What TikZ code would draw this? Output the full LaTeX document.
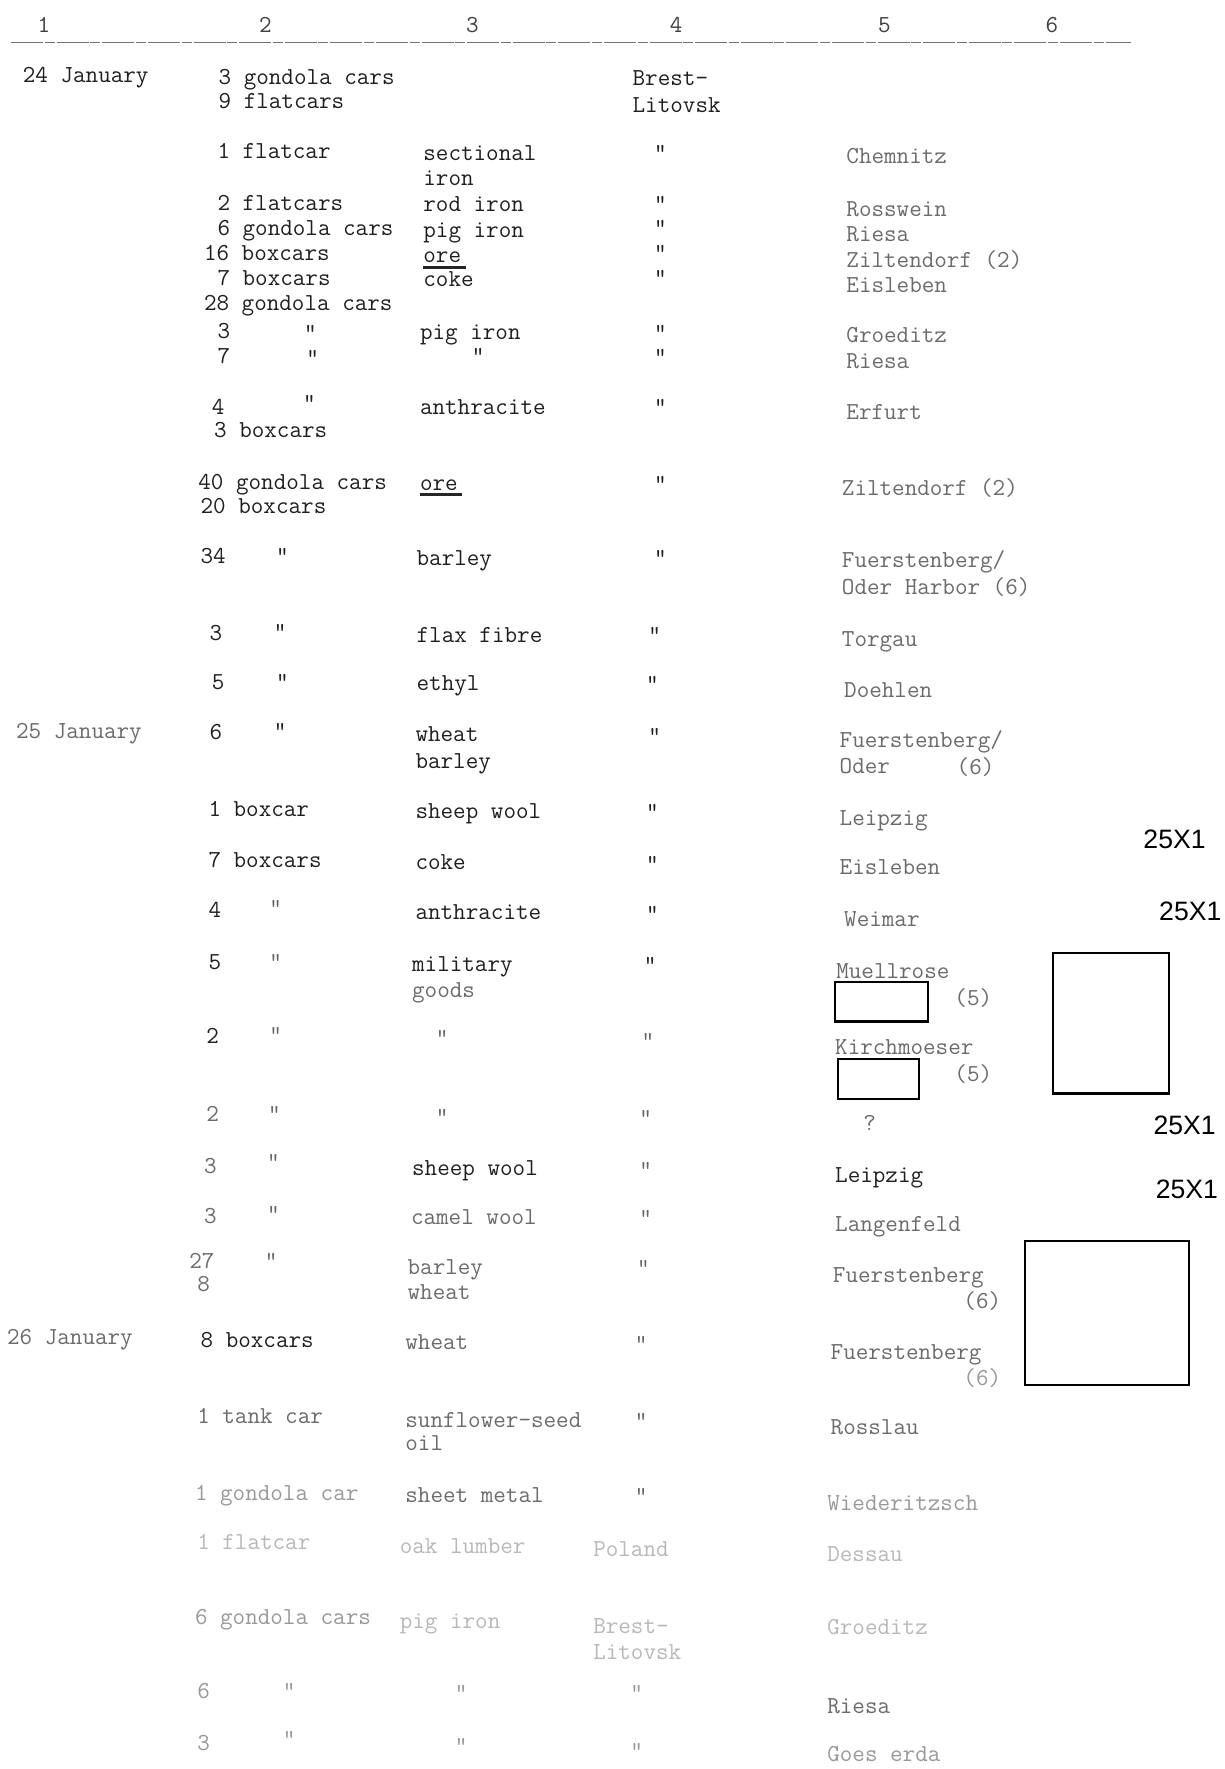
\documentclass[tikz,border=0pt]{standalone}
\usepackage{fontspec}
\newfontfamily\arialfont{Liberation Sans}
\begin{document}
\begin{tikzpicture}[x=0.5625pt,y=-0.5625pt,
  t/.style={font=\ttfamily\fontsize{12.2}{14}\selectfont, anchor=base west, inner sep=0pt, text=black!88},
  tl/.style={t, text=black!58},
  tf/.style={t, text=black!40},
  tv/.style={t, text=black!28},
  dit/.style={t, anchor=base},
  ditl/.style={dit, text=black!60},
  ditf/.style={dit, text=black!40},
  hd/.style={t, anchor=base, text=black!75},
  tag/.style={font=\arialfont\fontsize{13.3}{15}\selectfont, inner sep=0pt, anchor=center, text=black},
  blank/.style={draw=black, line width=1.1pt},
  uline/.style={line width=1.6pt, black!85}]
\useasboundingbox (0,0) rectangle (1088,1572.4);
\fill[white] (0,0) rectangle (1088,1572.4);
\begin{scope}[yshift=-1.5pt]
% header
\node[hd] (h1) at (39,26) {1};
\node[hd] (h2) at (236,26) {2};
\node[hd] (h3) at (420,26) {3};
\node[hd] (h4) at (601,26) {4};
\node[hd] (h5) at (786,26) {5};
\node[hd] (h6) at (935,26) {6};
\end{scope}
\coordinate (hl1) at (10,38);
\coordinate (hl2) at (1005,38);
\draw[black!55, line width=0.6pt, dash pattern=on 16pt off 0.8pt on 5pt off 1pt] (hl1) -- (hl2);
\begin{scope}[yshift=-1.5pt]
% 24 January
\node[t] (d24) at (20,71) {24 January};
\node[t] (a1) at (194,72) {3 gondola cars};
\node[t] (a2) at (194,94) {9 flatcars};
\node[t] (a3) at (562,73) {Brest-};
\node[t] (a4) at (562,97) {Litovsk};
\node[t] (b1) at (193,138) {1 flatcar};
\node[t] (b2) at (376,140) {sectional};
\node[dit] (b3) at (587,140) {"};
\node[tl] (b4) at (752,143) {Chemnitz};
\node[t] (b5) at (376,162) {iron};
\node[t] (c1) at (193,184) {2 flatcars};
\node[t] (c2) at (376,185) {rod iron};
\node[dit] (c3) at (587,185) {"};
\node[tl] (c4) at (752,190) {Rosswein};
\node[t] (e1) at (193,207) {6 gondola cars};
\node[t] (e2) at (376,208) {pig iron};
\node[dit] (e3) at (587,207) {"};
\node[tl] (e4) at (752,212) {Riesa};
\node[t] (f1) at (181,229) {16 boxcars};
\node[t] (f2) at (376,231) {ore};
\draw[uline] ([yshift=-2pt]f2.south west) -- ([xshift=2pt,yshift=-2pt]f2.south east);
\node[dit] (f3) at (587,229) {"};
\node[tl] (f4) at (752,235) {Ziltendorf (2)};
\node[t] (g1) at (193,251) {7 boxcars};
\node[t] (g2) at (376,252) {coke};
\node[dit] (g3) at (587,251) {"};
\node[tl] (g4) at (752,257) {Eisleben};
\node[t] (i1) at (181,273) {28 gondola cars};
\node[t] (j1) at (193,298) {3};
\node[dit] (j2) at (276,300) {"};
\node[t] (j3) at (373,299) {pig iron};
\node[dit] (j4) at (587,300) {"};
\node[tl] (j5) at (752,302) {Groeditz};
\node[t] (k1) at (193,320) {7};
\node[dit] (k2) at (278,322) {"};
\node[dit] (k3) at (425,320) {"};
\node[dit] (k4) at (587,321) {"};
\node[tl] (k5) at (752,325) {Riesa};
\node[t] (l1) at (188,366) {4};
\node[dit] (l2) at (275,362) {"};
\node[t] (l3) at (373,366) {anthracite};
\node[dit] (l4) at (587,366) {"};
\node[tl] (l5) at (752,370) {Erfurt};
\node[t] (m1) at (190,386) {3 boxcars};
\node[t] (n1) at (176,432) {40 gondola cars};
\node[t] (n2) at (373,433) {ore};
\draw[uline] ([yshift=-2pt]n2.south west) -- ([xshift=2pt,yshift=-2pt]n2.south east);
\node[dit] (n3) at (587,434) {"};
\node[tl] (n4) at (748,438) {Ziltendorf (2)};
\node[t] (o1) at (178,454) {20 boxcars};
\node[t] (p1) at (178,498) {34};
\node[dit] (p2) at (251,498) {"};
\node[t] (p3) at (370,500) {barley};
\node[dit] (p4) at (587,500) {"};
\node[tl] (p5) at (748,502) {Fuerstenberg/};
\node[tl] (p6) at (748,526) {Oder Harbor (6)};
\node[t] (q1) at (186,567) {3};
\node[dit] (q2) at (249,566) {"};
\node[t] (q3) at (370,568) {flax fibre};
\node[dit] (q4) at (582,568) {"};
\node[tl] (q5) at (748,572) {Torgau};
\node[t] (r1) at (188,610) {5};
\node[dit] (r2) at (251,610) {"};
\node[t] (r3) at (370,611) {ethyl};
\node[dit] (r4) at (580,612) {"};
\node[tl] (r5) at (750,617) {Doehlen};
% 25 January
\node[tl] (d25) at (14,654) {25 January};
\node[t] (s1) at (186,655) {6};
\node[dit] (s2) at (249,654) {"};
\node[t] (s3) at (369,656) {wheat};
\node[dit] (s4) at (582,658) {"};
\node[tl] (s5) at (746,662) {Fuerstenberg/};
\node[t] (s6) at (369,680) {barley};
\node[tl] (s7) at (746,685) {Oder};
\node[tl] (s8) at (850,686) {(6)};
\node[t] (u1) at (185,723) {1 boxcar};
\node[t] (u2) at (369,725) {sheep wool};
\node[dit] (u3) at (580,726) {"};
\node[tl] (u4) at (746,731) {Leipzig};
\node[t] (v1) at (185,768) {7 boxcars};
\node[t] (v2) at (369,770) {coke};
\node[dit] (v3) at (580,772) {"};
\node[tl] (v4) at (746,775) {Eisleben};
\node[t] (w1) at (185,813) {4};
\node[ditl] (w2) at (245,811) {"};
\node[t] (w3) at (369,815) {anthracite};
\node[dit] (w4) at (580,816) {"};
\node[tl] (w5) at (750,821) {Weimar};
\node[t] (x1) at (185,859) {5};
\node[ditl] (x2) at (245,859) {"};
\node[t] (x3) at (366,861) {military};
\node[dit] (x4) at (578,862) {"};
\node[tl] (x5) at (743,867) {Muellrose};
\node[tl] (x6) at (366,884) {goods};
\node[tl] (x7) at (848,891) {(5)};
\node[t] (y1) at (183,925) {2};
\node[ditl] (y2) at (245,924) {"};
\node[ditl] (y3) at (393,927) {"};
\node[ditl] (y4) at (576,929) {"};
\node[tl] (y5) at (742,935) {Kirchmoeser};
\node[tl] (y6) at (848,959) {(5)};
\node[tl] (z1) at (183,994) {2};
\node[ditl] (z2) at (244,994) {"};
\node[ditl] (z3) at (393,997) {"};
\node[ditl] (z4) at (574,998) {"};
\node[tl] (z5) at (767,1002) {?};
\node[tl] (aa1) at (181,1040) {3};
\node[ditl] (aa2) at (243,1037) {"};
\node[t] (aa3) at (366,1042) {sheep wool};
\node[ditl] (aa4) at (574,1044) {"};
\node[t] (aa5) at (742,1048) {Leipzig};
\node[tl] (ab1) at (181,1085) {3};
\node[ditl] (ab2) at (243,1083) {"};
\node[tl] (ab3) at (365,1086) {camel wool};
\node[ditl] (ab4) at (574,1087) {"};
\node[tl] (ab5) at (742,1092) {Langenfeld};
\node[tl] (ac1) at (168,1125) {27};
\node[tl] (ac2) at (175,1145) {8};
\node[ditl] (ac3) at (241,1125) {"};
\node[tl] (ac4) at (362,1130) {barley};
\node[tl] (ac5) at (362,1152) {wheat};
\node[ditl] (ac6) at (572,1131) {"};
\node[tl] (ac7) at (740,1137) {Fuerstenberg};
\node[tl] (ac8) at (856,1160) {(6)};
% 26 January
\node[tl] (d26) at (6,1192) {26 January};
\node[t] (ad1) at (178,1195) {8 boxcars};
\node[tl] (ad2) at (360,1197) {wheat};
\node[ditl] (ad3) at (570,1199) {"};
\node[tl] (ad4) at (738,1206) {Fuerstenberg};
\node[tf] (ad5) at (856,1229) {(6)};
\node[tl] (ae1) at (175,1263) {1 tank car};
\node[tl] (ae2) at (360,1266) {sunflower-seed};
\node[tl] (ae3) at (360,1287) {oil};
\node[ditl] (ae4) at (570,1267) {"};
\node[tl] (ae5) at (738,1272) {Rosslau};
\node[tf] (af1) at (173,1331) {1 gondola car};
\node[tl] (af2) at (360,1333) {sheet metal};
\node[ditl] (af3) at (570,1334) {"};
\node[tf] (af4) at (735,1340) {Wiederitzsch};
\node[tv] (ag1) at (175,1375) {1 flatcar};
\node[tv] (ag2) at (355,1378) {oak lumber};
\node[tv] (ag3) at (527,1381) {Poland};
\node[tv] (ag4) at (735,1385) {Dessau};
\node[tf] (ah1) at (173,1441) {6 gondola cars};
\node[tv] (ah2) at (355,1445) {pig iron};
\node[tv] (ah3) at (527,1449) {Brest-};
\node[tv] (ah4) at (527,1472) {Litovsk};
\node[tv] (ah5) at (735,1450) {Groeditz};
\node[tf] (ai1) at (175,1507) {6};
\node[ditf] (ai2) at (257,1507) {"};
\node[ditf] (ai3) at (410,1509) {"};
\node[ditf] (ai4) at (566,1509) {"};
\node[tl] (ai5) at (735,1520) {Riesa};
\node[tf] (aj1) at (175,1553) {3};
\node[ditf] (aj2) at (257,1550) {"};
\node[ditf] (aj3) at (410,1556) {"};
\node[ditf] (aj4) at (566,1560) {"};
\node[tf] (aj5) at (735,1563) {Goes erda};
\end{scope}
% redaction blanks
\node[blank, minimum width=103pt*0.5625, minimum height=125pt*0.5625, anchor=north west, inner sep=0pt] (bx1) at (935,846) {};
\node[blank, minimum width=83pt*0.5625, minimum height=35pt*0.5625, anchor=north west, inner sep=0pt, fill=white] (bx2) at (741,872) {};
\node[blank, minimum width=72pt*0.5625, minimum height=36pt*0.5625, anchor=north west, inner sep=0pt, fill=white] (bx3) at (744,940) {};
\node[blank, minimum width=146pt*0.5625, minimum height=128pt*0.5625, anchor=north west, inner sep=0pt] (bx4) at (910,1102) {};
% 25X1 marks
\node[tag] (m1tag) at (1044,746) {25X1};
\node[tag] (m2tag) at (1058,810) {25X1};
\node[tag] (m3tag) at (1053,1000) {25X1};
\node[tag] (m4tag) at (1055,1057) {25X1};
\end{tikzpicture}
\end{document}
